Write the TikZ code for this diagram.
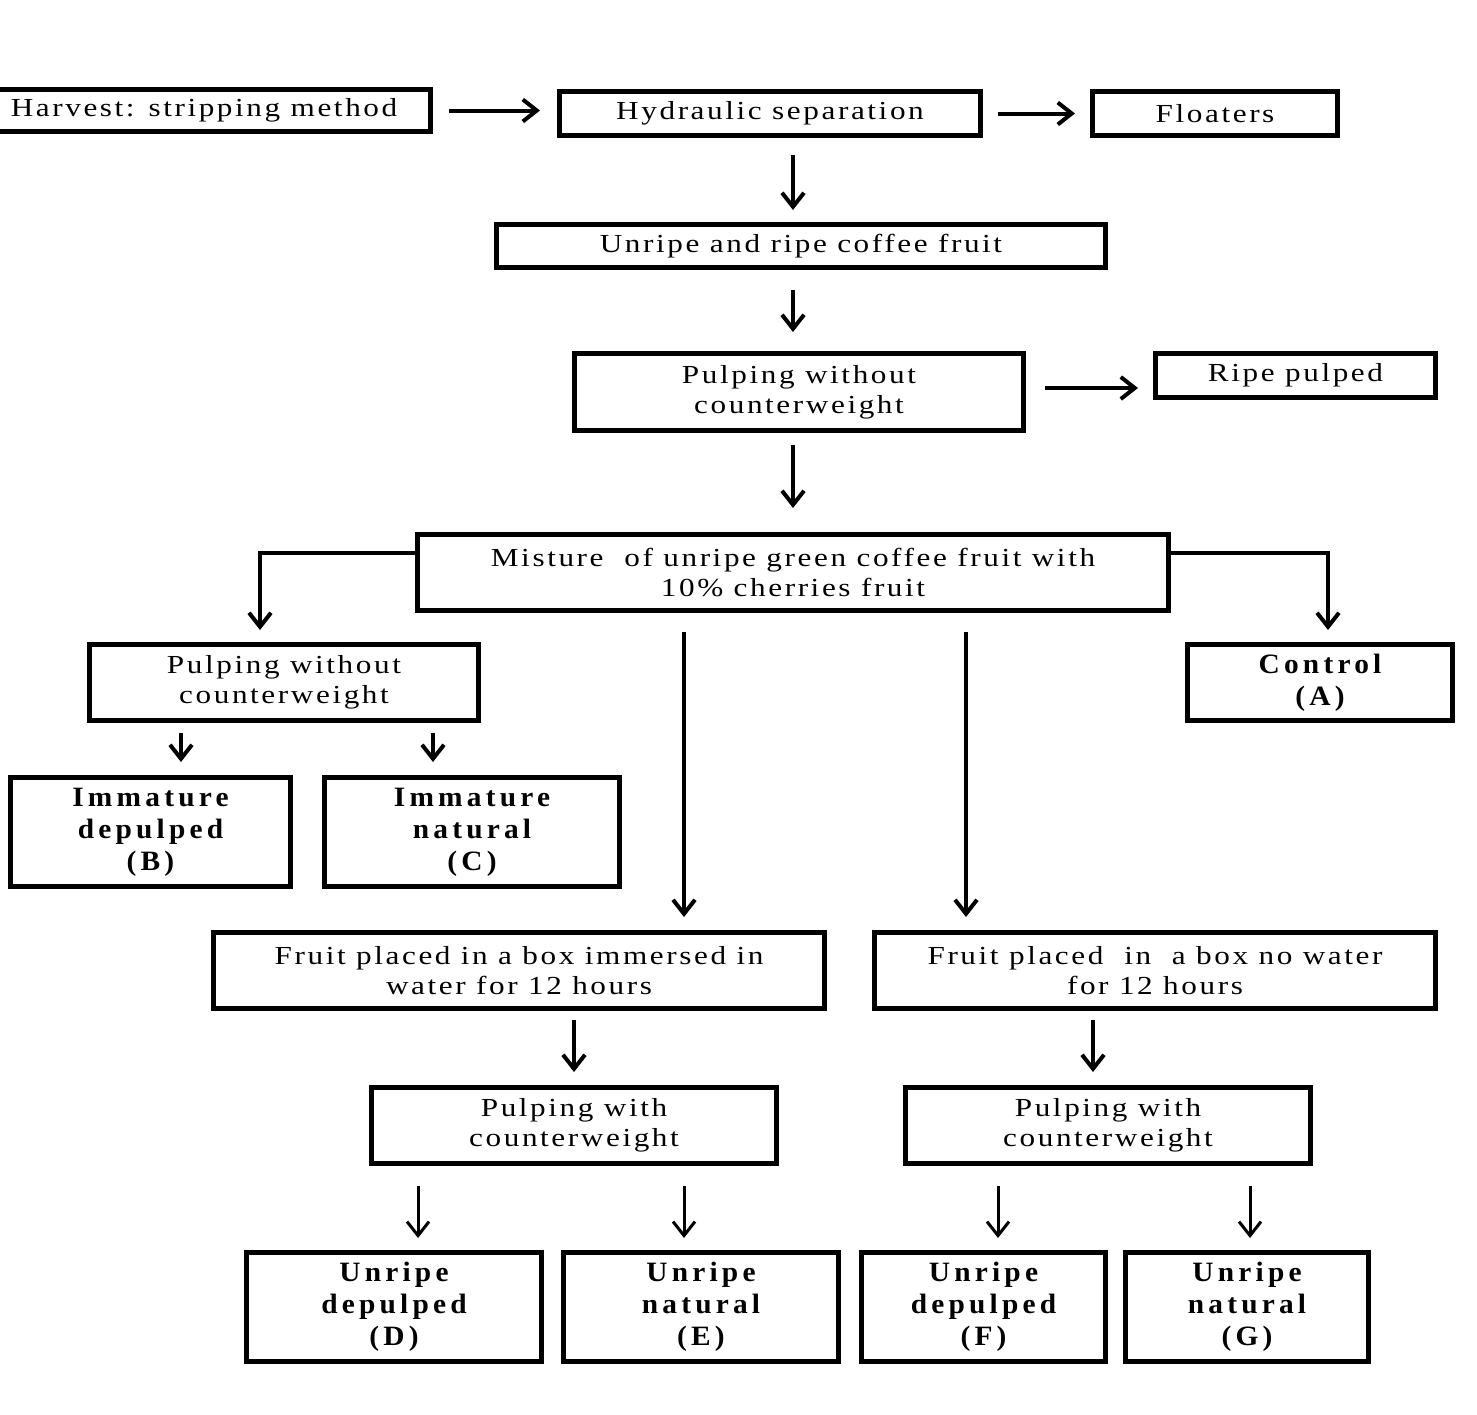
\documentclass[tikz,border=0pt]{standalone}
\usepackage{fontspec}
\setmainfont{Liberation Serif}[FakeStretch=1.2, LetterSpace=10]
\newfontfamily\resfont{Liberation Serif}[FakeStretch=1.05, LetterSpace=15]
\usetikzlibrary{arrows.meta}
\begin{document}
\begin{tikzpicture}[x=0.5pt, y=-0.5pt,
  box/.style={draw, line width=2.5pt, inner sep=0pt, align=center, font=\fontsize{13}{15}\selectfont},
  res/.style={box, font=\resfont\bfseries\fontsize{14}{16}\selectfont},
  arr/.style={line width=2pt, -{Straight Barb[length=7pt,width=11pt]}},
  tarr/.style={arr, line width=1.5pt}]
  \useasboundingbox (0,0) rectangle (1477,1414);
  \node[box, minimum width=226.5pt, minimum height=21pt] (harvest) at (204,110.5) {Harvest: stripping method};
  \node[box, minimum width=210.5pt, minimum height=22pt] (hydro) at (770,113.5) {Hydraulic separation};
  \node[box, minimum width=122.5pt, minimum height=22pt] (floaters) at (1215,113.5) {Floaters};
  \node[box, minimum width=304.5pt, minimum height=21.5pt] (fruit) at (801,246) {Unripe and ripe coffee fruit};
  \node[box, minimum width=224.5pt, minimum height=38.5pt] (pulp) at (799,392) {Pulping without\\counterweight};
  \node[box, minimum width=140pt, minimum height=22pt] (ripe) at (1295.5,375.5) {Ripe pulped};
  \node[box, minimum width=375.5pt, minimum height=38pt] (mix) at (793,572.5) {Misture\ \ of unripe green coffee fruit with\\10\% cherries fruit};
  \node[box, minimum width=194.5pt, minimum height=38pt] (pulpL) at (284,682.5) {Pulping without\\counterweight};
  \node[res, minimum width=132.5pt, minimum height=38pt] (control) at (1320,682.5) {Control\\(A)};
  \node[res, minimum width=140pt, minimum height=54.5pt] (immB) at (150.5,832) {Immature\\depulped\\(B)};
  \node[res, minimum width=147.5pt, minimum height=54.5pt] (immC) at (472,832) {Immature\\natural\\(C)};
  \node[box, minimum width=305.5pt, minimum height=38pt] (boxW) at (519,970.5) {Fruit placed in a box immersed in\\water for 12 hours};
  \node[box, minimum width=280.5pt, minimum height=38pt] (boxN) at (1155,970.5) {Fruit placed\ \ in\ \ a box no water\\for 12 hours};
  \node[box, minimum width=202.5pt, minimum height=38pt] (pulpW) at (574,1125.5) {Pulping with\\counterweight};
  \node[box, minimum width=202.5pt, minimum height=38pt] (pulpN) at (1108,1125.5) {Pulping with\\counterweight};
  \node[res, minimum width=147.5pt, minimum height=54.5pt] (resD) at (394,1307) {Unripe\\depulped\\(D)};
  \node[res, minimum width=137.5pt, minimum height=54.5pt] (resE) at (701,1307) {Unripe\\natural\\(E)};
  \node[res, minimum width=122pt, minimum height=54.5pt] (resF) at (983.5,1307) {Unripe\\depulped\\(F)};
  \node[res, minimum width=121.5pt, minimum height=54.5pt] (resG) at (1247,1307) {Unripe\\natural\\(G)};
  \draw[arr, shorten <=8pt, shorten >=8.5pt] (harvest.east) -- (harvest.east -| hydro.west);
  \draw[arr, shorten <=7.5pt, shorten >=7.5pt] (hydro.east) -- (floaters.west);
  \draw[arr, shorten <=8.5pt, shorten >=6pt] (hydro.south -| mix) -- (fruit.north -| mix);
  \draw[arr, shorten <=10pt, shorten >=9.5pt] (fruit.south -| mix) -- (pulp.north -| mix);
  \draw[arr, shorten <=9.5pt, shorten >=7.5pt] ([yshift=2pt]pulp.east) -- ([yshift=2pt]pulp.east -| ripe.west);
  \draw[arr, shorten <=6pt, shorten >=12pt] (pulp.south -| mix) -- (mix.north);
  \draw[arr, shorten >=6pt] ([yshift=10pt]mix.west) -| ([xshift=-12pt]pulpL.north);
  \draw[arr, shorten >=6pt] ([yshift=10pt]mix.east) -| ([xshift=4pt]control.north);
  \draw[arr, shorten <=5pt, shorten >=6.5pt] ([xshift=15.25pt]immB.north |- pulpL.south) -- ([xshift=15.25pt]immB.north);
  \draw[arr, shorten <=5pt, shorten >=6.5pt] ([xshift=-19.5pt]immC.north |- pulpL.south) -- ([xshift=-19.5pt]immC.north);
  \draw[arr, shorten <=9.5pt, shorten >=6.5pt] ([xshift=-54.5pt]mix.south) -- ([xshift=-54.5pt]mix.south |- boxW.north);
  \draw[arr, shorten <=9.5pt, shorten >=6.5pt] ([xshift=86.5pt]mix.south) -- ([xshift=86.5pt]mix.south |- boxN.north);
  \draw[arr, shorten <=4.5pt, shorten >=6.5pt] (boxW.south -| pulpW) -- (pulpW.north);
  \draw[arr, shorten <=4.5pt, shorten >=6.5pt] ([xshift=-7.5pt]pulpN.north |- boxN.south) -- ([xshift=-7.5pt]pulpN.north);
  \draw[tarr, shorten <=10pt, shorten >=6pt] ([xshift=12pt]resD.north |- pulpW.south) -- ([xshift=12pt]resD.north);
  \draw[tarr, shorten <=10pt, shorten >=6pt] ([xshift=-8.5pt]resE.north |- pulpW.south) -- ([xshift=-8.5pt]resE.north);
  \draw[tarr, shorten <=10pt, shorten >=6pt] ([xshift=7.25pt]resF.north |- pulpN.south) -- ([xshift=7.25pt]resF.north);
  \draw[tarr, shorten <=10pt, shorten >=6pt] ([xshift=1.5pt]resG.north |- pulpN.south) -- ([xshift=1.5pt]resG.north);
\end{tikzpicture}
\end{document}
